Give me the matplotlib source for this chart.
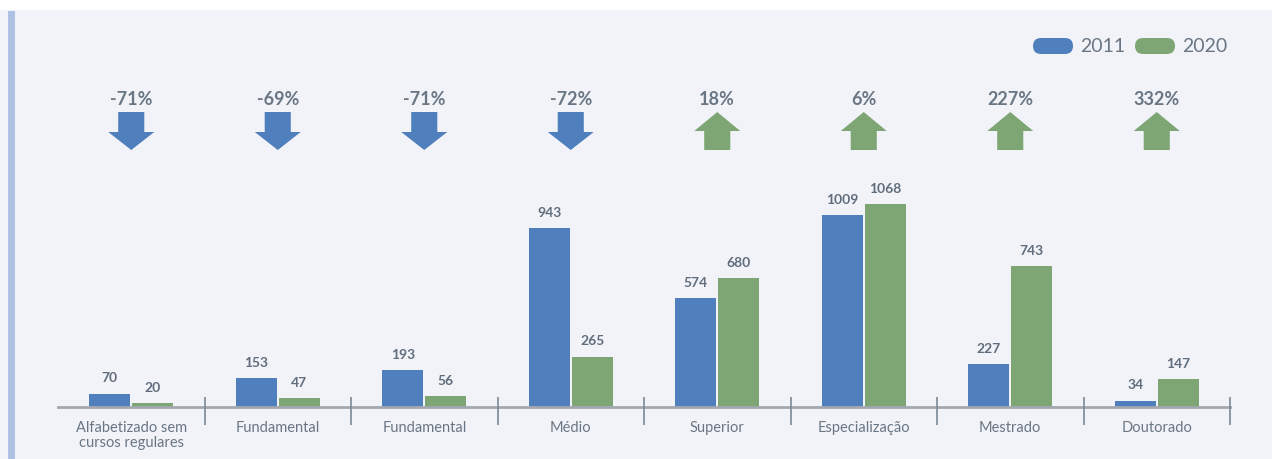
import numpy as np
import matplotlib.pyplot as plt
from matplotlib.patches import FancyBboxPatch, Rectangle

plt.rcParams['font.family'] = ['Lato', 'DejaVu Sans']

# dados
categorias = ['Alfabetizado sem\ncursos regulares', 'Fundamental', 'Fundamental', 'Médio',
              'Superior', 'Especialização', 'Mestrado', 'Doutorado']
v2011 = [70, 153, 193, 943, 574, 1009, 227, 34]
v2020 = [20, 47, 56, 265, 680, 1068, 743, 147]
anos = ['2011', '2020']

azul = '#4f7fbd'
verde = '#7ea674'
cinza_txt = '#6a7684'
fundo = '#f1f3f8'

fig = plt.figure(figsize=(12.72, 4.59), dpi=100)
fig.patch.set_facecolor('white')
# fundo e faixa lateral
fig.add_artist(Rectangle((0, 0), 12.72, 4.49, transform=fig.dpi_scale_trans,
                         facecolor=fundo, edgecolor='none', zorder=-10))
fig.add_artist(Rectangle((0.08, 0), 0.07, 4.48, transform=fig.dpi_scale_trans,
                         facecolor='#afc2e3', edgecolor='none', zorder=-9))

ax = fig.add_axes([58 / 1272, 52 / 459, (1230 - 58) / 1272, 397 / 459])
ax.set_facecolor('none')
esc = 0.19  # px por unidade
ax.set_xlim(-0.5, 7.5)
ax.set_ylim(0, 397 / esc)

def px(y):
    # converte linha de pixel da imagem em valor do eixo
    return (407 - y) / esc

x = np.arange(len(categorias))
w = 0.28
off = 0.147
b1 = ax.bar(x - off, v2011, w, color=azul, zorder=3)
b2 = ax.bar(x + off, v2020, w, color=verde, zorder=3)

for barras in (b1, b2):
    for b in barras:
        h = b.get_height()
        ax.annotate(f'{h:.0f}', (b.get_x() + b.get_width() / 2, h), xytext=(0, 11),
                    textcoords='offset points', ha='center', va='center',
                    fontsize=10, fontweight='bold', color='#616d7c')

# linha base e separadores
ax.plot([-0.5, 7.5], [0, 0], color='#a3a8b0', lw=2, zorder=4, clip_on=False)
ax.vlines(np.arange(0.5, 8, 1), px(425), px(397), color='#7d8896', lw=1.2,
          clip_on=False, zorder=4)

# variação percentual e setas
for i, (a, b) in enumerate(zip(v2011, v2020)):
    pct = (b - a) / a * 100
    ax.text(i, px(99), f'{pct:.0f}%', ha='center', va='center', fontsize=13,
            fontweight='bold', color=cinza_txt)
    hs, hh = 0.089, 0.157
    if pct < 0:
        xs = [i - hs, i + hs, i + hs, i + hh, i, i - hh, i - hs]
        ys = [px(112), px(112), px(132), px(132), px(150), px(132), px(132)]
        cor = azul
    else:
        xs = [i - hs, i + hs, i + hs, i + hh, i, i - hh, i - hs]
        ys = [px(150), px(150), px(131), px(131), px(112), px(131), px(131)]
        cor = verde
    ax.fill(xs, ys, color=cor, lw=0, clip_on=False)

ax.set_xticks(x)
ax.set_xticklabels(categorias, fontsize=10.5, color=cinza_txt, linespacing=1.1)
ax.tick_params(axis='x', length=0, pad=10)
ax.set_yticks([])
for s in ax.spines.values():
    s.set_visible(False)

# legenda
for xl, cor, txt in [(10.33, azul, anos[0]), (11.35, verde, anos[1])]:
    fig.add_artist(FancyBboxPatch((xl, 4.05), 0.40, 0.16, boxstyle='round,pad=0,rounding_size=0.08',
                                  transform=fig.dpi_scale_trans, facecolor=cor, edgecolor='none'))
    fig.text((xl + 0.47) / 12.72, 4.13 / 4.59, txt, ha='left', va='center',
             fontsize=14, color=cinza_txt)

fig.savefig('out.png', dpi=100, facecolor=fig.get_facecolor())
